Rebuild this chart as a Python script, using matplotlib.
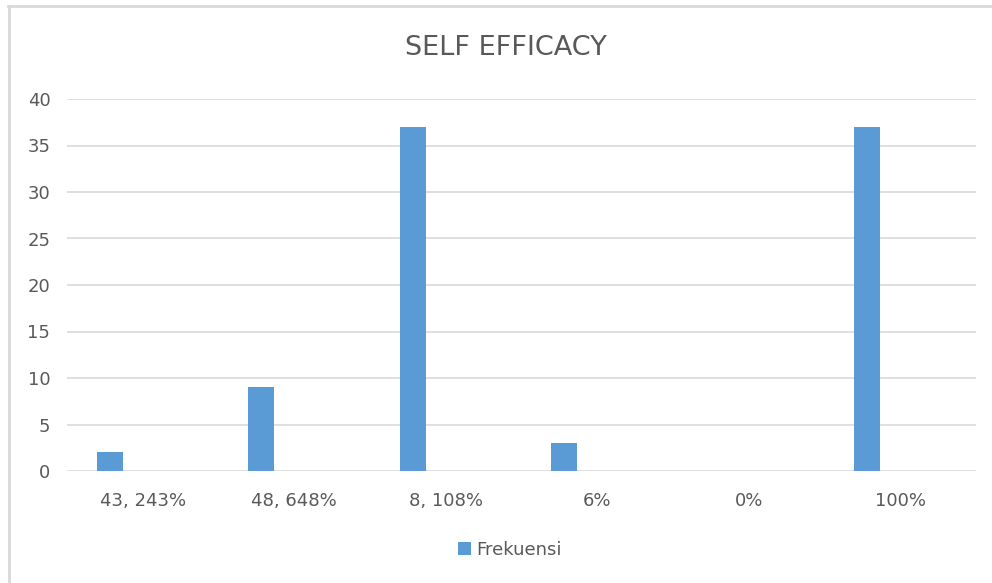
import matplotlib.pyplot as plt
from matplotlib.lines import Line2D
import numpy as np

categories = ["43, 243%", "48, 648%", "8, 108%", "6%", "0%", "100%"]
frekuensi = [2, 9, 37, 3, 0, 37]

bar_color = '#5B9BD5'
text_color = '#595959'
grid_color = '#D9D9D9'

fig = plt.figure(figsize=(9.92, 5.83), dpi=100)
ax = fig.add_axes([67 / 992, 112 / 583, 909 / 992, 372 / 583])

x = np.arange(len(categories))
ax.bar(x - 0.218, frekuensi, width=0.172, color=bar_color, label='Frekuensi', zorder=3)

ax.set_xlim(-0.5, len(categories) - 0.5)
ax.set_ylim(0, 40)
ax.set_yticks(range(0, 41, 5))
ax.set_xticks(x)
ax.set_xticklabels(categories)
ax.tick_params(axis='both', length=0, colors=text_color, labelsize=13)
ax.tick_params(axis='x', pad=15)
ax.tick_params(axis='y', pad=12)
ax.yaxis.grid(True, color=grid_color, linewidth=1.2, zorder=0)
for s in ax.spines.values():
    s.set_visible(False)

fig.text(506 / 992, 1 - 48 / 583, 'SELF EFFICACY', fontsize=19.5, color=text_color,
         ha='center', va='center')

fig.legend(loc='center', bbox_to_anchor=(510 / 992, 1 - 550 / 583), frameon=False,
           fontsize=13, labelcolor=text_color, handlelength=0.7, handleheight=0.7,
           handletextpad=0.3)

# chart border (only top and left are visible)
fig.add_artist(Line2D([8 / 992, 1], [1 - 5.5 / 583] * 2, transform=fig.transFigure,
                      color=grid_color, linewidth=2))
fig.add_artist(Line2D([8.5 / 992] * 2, [0, 1 - 5.5 / 583], transform=fig.transFigure,
                      color=grid_color, linewidth=2))

fig.savefig('out.png', dpi=100, facecolor='white')
